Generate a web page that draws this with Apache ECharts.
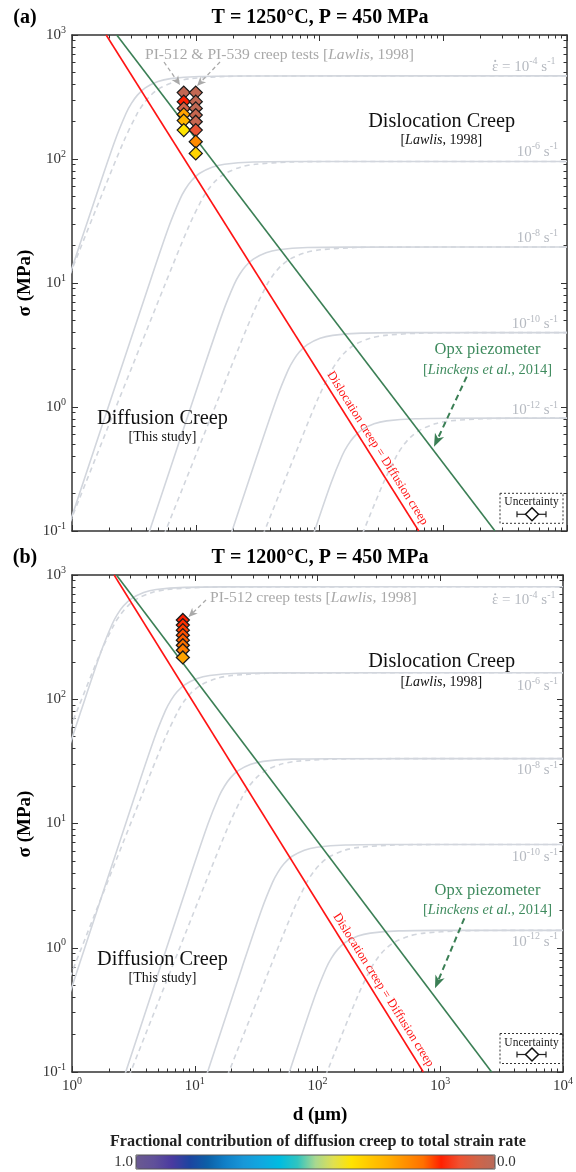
<!DOCTYPE html>
<html><head><meta charset="utf-8">
<script src="https://cdn.jsdelivr.net/npm/echarts@6/dist/echarts.min.js"></script>
<style>html,body{margin:0;padding:0;background:#fff}#c{width:576px;height:1172px}</style>
</head><body><div id="c"></div>
<script>
// ---------------- DATA ----------------
const xMajor = [1, 10, 100, 1000, 10000];
const xMajorLabels = ['0', '1', '2', '3', '4'];
const xMinor = [2,3,4,5,6,7,8,9,20,30,40,50,60,70,80,90,200,300,400,500,600,700,800,900,2000,3000,4000,5000,6000,7000,8000,9000];
const yMajor = [0.1, 1, 10, 100, 1000];
const yMajorLabels = ['-1', '0', '1', '2', '3'];
const yMinor = [0.2,0.3,0.4,0.5,0.6,0.7,0.8,0.9,2,3,4,5,6,7,8,9,20,30,40,50,60,70,80,90,200,300,400,500,600,700,800,900];
const rateExponents = ['-4', '-6', '-8', '-10', '-12'];
const colorbarLabels = ['1.0', '0.0'];

// Panel (a) T=1250 C : strain-rate contours [d (um), sigma (MPa)]
const a_s4  = [[0.8,6.74],[1.526,46.8],[2.223,140.4],[2.736,234],[3.02,280.8],[3.377,327.6],[3.907,374.4],[4.949,421.2],[6.247,444.6],[10.7,463.3],[23.03,467.5],[10000,468]];
const a_s6  = [[0.8,0.0674],[4.17,9.55],[6.076,28.65],[7.479,47.75],[8.255,57.3],[9.231,66.85],[10.68,76.4],[13.53,85.95],[17.07,90.73],[29.24,94.55],[62.96,95.4],[10000,95.5]];
const a_s8  = [[3.361,0.05],[11.4,1.95],[16.61,5.85],[20.44,9.75],[22.56,11.7],[25.23,13.65],[29.19,15.6],[36.97,17.55],[46.67,18.53],[79.93,19.31],[172.1,19.48],[10000,19.5]];
const a_s10 = [[15.6,0.05],[31.15,0.398],[45.39,1.194],[55.87,1.99],[61.67,2.388],[68.97,2.786],[79.78,3.184],[101.1,3.582],[127.6,3.781],[218.5,3.94],[470.4,3.976],[10000,3.98]];
const a_s12 = [[85.11,0.0813],[124,0.2439],[152.6,0.4065],[168.5,0.4878],[188.4,0.5691],[217.9,0.6504],[276,0.7317],[348.5,0.7724],[596.8,0.8049],[1285,0.8122],[10000,0.813]];
const a_d4  = [[0.8,7.37],[1.676,46.8],[2.631,140.4],[3.377,234],[3.802,280.8],[4.348,327.6],[5.176,374.4],[6.878,421.2],[9.095,444.6],[17.34,463.3],[43.54,467.5],[10000,468]];
const a_d6  = [[0.8,0.0737],[5.6,9.55],[8.792,28.65],[11.29,47.75],[12.71,57.3],[14.53,66.85],[17.3,76.4],[22.99,85.95],[30.4,90.73],[57.96,94.55],[145.5,95.4],[10000,95.5]];
const a_d8  = [[4.324,0.05],[18.72,1.95],[29.38,5.85],[37.72,9.75],[42.47,11.7],[48.56,13.65],[57.81,15.6],[76.83,17.55],[101.6,18.53],[193.7,19.31],[486.3,19.48],[10000,19.5]];
const a_d10 = [[27.27,0.05],[62.53,0.398],[98.17,1.194],[126,1.99],[141.9,2.388],[162.3,2.786],[193.2,3.184],[256.7,3.582],[339.4,3.781],[647.2,3.94],[1625,3.976],[10000,3.98]];
const a_d12 = [[209,0.0813],[328.2,0.2439],[421.3,0.4065],[474.3,0.4878],[542.4,0.5691],[645.7,0.6504],[858,0.7317],[1135,0.7724],[2163,0.8049],[5432,0.8122],[10000,0.813]];

// Panel (b) T=1200 C
const b_s4  = [[0.8,24.85],[1.183,80.35],[1.724,241.1],[2.123,401.8],[2.343,482.1],[2.62,562.5],[3.031,642.8],[3.839,723.2],[4.846,763.3],[8.3,795.5],[17.87,802.7],[10000,803.5]];
const b_s6  = [[0.8,0.2484],[3.229,16.33],[4.705,48.99],[5.791,81.65],[6.392,97.98],[7.148,114.3],[8.269,130.6],[10.47,147],[13.22,155.1],[22.65,161.7],[48.75,163.1],[10000,163.3]];
const b_s8  = [[2.176,0.05],[8.817,3.327],[12.85,9.981],[15.81,16.64],[17.45,19.96],[19.52,23.29],[22.58,26.62],[28.6,29.94],[36.1,31.61],[61.83,32.94],[133.1,33.24],[10000,33.27]];
const b_s10 = [[10.1,0.05],[24.09,0.6777],[35.1,2.033],[43.2,3.389],[47.68,4.066],[53.32,4.744],[61.69,5.422],[78.13,6.099],[98.62,6.438],[168.9,6.709],[363.7,6.77],[10000,6.777]];
const b_s12 = [[46.9,0.05],[65.79,0.138],[95.86,0.414],[118,0.69],[130.2,0.828],[145.6,0.966],[168.5,1.104],[213.4,1.242],[269.4,1.311],[461.4,1.366],[993.3,1.379],[10000,1.38]];
const b_d4  = [[0.8,36.5],[1.097,80.35],[1.722,241.1],[2.211,401.8],[2.489,482.1],[2.846,562.5],[3.388,642.8],[4.503,723.2],[5.952,763.3],[11.35,795.5],[28.5,802.7],[10000,803.5]];
const b_d6  = [[0.8,0.3648],[3.66,16.33],[5.745,48.99],[7.375,81.65],[8.304,97.98],[9.496,114.3],[11.3,130.6],[15.02,147],[19.86,155.1],[37.87,161.7],[95.1,163.1],[10000,163.3]];
const b_d8  = [[2.279,0.05],[12.22,3.327],[19.18,9.981],[24.62,16.64],[27.72,19.96],[31.7,23.29],[37.73,26.62],[50.15,29.94],[66.31,31.61],[126.4,32.94],[317.4,33.24],[10000,33.27]];
const b_d10 = [[14.38,0.05],[40.79,0.6777],[64.03,2.033],[82.2,3.389],[92.55,4.066],[105.8,4.744],[126,5.422],[167.4,6.099],[221.4,6.438],[422.1,6.709],[1060,6.77],[10000,6.777]];
const b_d12 = [[90.74,0.05],[136.2,0.138],[213.9,0.414],[274.5,0.69],[309.1,0.828],[353.5,0.966],[420.8,1.104],[559.2,1.242],[739.4,1.311],[1410,1.366],[3540,1.379],[10000,1.38]];

// boundary lines
const redA = [[1.888,1000],[634,0.1]];
const redB = [[2.203,1000],[728,0.1]];
const greenPiezo = [[2.3,1000],[2620,0.1]];

// creep tests [d, sigma, fraction of diffusion creep]
const a_pi512 = [[8,343,0.02],[8,290,0.15],[8,256,0.05],[8,229,0.28],[8,204,0.31],[8,171,0.40]];
const a_pi539 = [[10,343,0.02],[10,290,0.02],[10,256,0.02],[10,226,0.03],[10,200,0.03],[10,171,0.09],[10,138,0.24],[10,111,0.37]];
const b_pi512 = [[8,434,0.15],[8,395,0.16],[8,360,0.17],[8,328,0.18],[8,299,0.19],[8,272,0.20],[8,248,0.22],[8,217,0.28]];

// colormap, value 0 -> 1
const palette = ['#b86a5a','#d06448','#f05030','#ff2000','#ff7000','#ff9000','#ffb000','#ffc800','#ffe400','#e0e050','#a8d890','#30c4c0','#00bce0','#10a8e0','#1898d8','#1080c8','#0c60a8','#1c44a0','#4a3aa0','#60509a','#6a5a90'];

// ---------------- CHART ----------------
const FONT = '"Liberation Serif", "Times New Roman", serif';
const AX = '#333';
const GRAY = '#d2d6dd';
const chart = echarts.init(document.getElementById('c'), null, {renderer: 'canvas', width: 576, height: 1172});

const RICH = {
  b: {fontSize: 15, fontFamily: FONT, color: '#333', lineHeight: 20},
  s: {fontSize: 10, fontFamily: FONT, color: '#333', verticalAlign: 'top'}
};
function expIndex(arr, v) {
  let best = 0, bd = 1e9;
  arr.forEach((t, i) => { const d = Math.abs(Math.log10(t) - Math.log10(v)); if (d < bd) { bd = d; best = i; } });
  return best;
}
const fx = v => '{b|10}{s|' + xMajorLabels[expIndex(xMajor, v)] + '}';
const fy = v => '{b|10}{s|' + yMajorLabels[expIndex(yMajor, v)] + '}';

function mkX(grid, pos, ticks, len, showLine, labels) {
  return {type: 'log', logBase: 10, gridIndex: grid, position: pos, min: 1, max: 10000, silent: true,
    axisLine: {show: showLine, onZero: false, lineStyle: {color: AX, width: 1.5}},
    axisTick: {show: true, inside: true, length: len, customValues: ticks, lineStyle: {color: AX, width: 1}},
    minorTick: {show: false}, splitLine: {show: false},
    axisLabel: labels ? {show: true, customValues: xMajor, formatter: fx, rich: RICH, margin: 4, showMinLabel: true, showMaxLabel: true} : {show: false}};
}
function mkY(grid, pos, ticks, len, showLine, labels) {
  return {type: 'log', logBase: 10, gridIndex: grid, position: pos, min: 0.1, max: 1000, silent: true,
    axisLine: {show: showLine, onZero: false, lineStyle: {color: AX, width: 1.5}},
    axisTick: {show: true, inside: true, length: len, customValues: ticks, lineStyle: {color: AX, width: 1}},
    minorTick: {show: false}, splitLine: {show: false},
    axisLabel: labels ? {show: true, customValues: yMajor, formatter: fy, rich: RICH, margin: 6, showMinLabel: true, showMaxLabel: true} : {show: false}};
}
const xAxes = [], yAxes = [];
[0, 1].forEach(g => {
  xAxes.push(mkX(g, 'bottom', xMajor, 6, true, g === 1));
  xAxes.push(mkX(g, 'bottom', xMinor, 3.5, false, false));
  xAxes.push(mkX(g, 'top', xMajor, 6, true, false));
  xAxes.push(mkX(g, 'top', xMinor, 3.5, false, false));
  yAxes.push(mkY(g, 'left', yMajor, 6, true, true));
  yAxes.push(mkY(g, 'left', yMinor, 3.5, false, false));
  yAxes.push(mkY(g, 'right', yMajor, 6, true, false));
  yAxes.push(mkY(g, 'right', yMinor, 3.5, false, false));
});

const panels = [
  {ax: 0, solid: [a_s4, a_s6, a_s8, a_s10, a_s12], dashed: [a_d4, a_d6, a_d8, a_d10, a_d12], red: redA, tests: [a_pi512, a_pi539]},
  {ax: 4, solid: [b_s4, b_s6, b_s8, b_s10, b_s12], dashed: [b_d4, b_d6, b_d8, b_d10, b_d12], red: redB, tests: [b_pi512]}
];
const series = [];
const markerIdx = [];
panels.forEach(p => {
  const base = {type: 'line', xAxisIndex: p.ax, yAxisIndex: p.ax, showSymbol: false, symbol: 'none', silent: true, clip: true, animation: false};
  p.solid.forEach(d => series.push(Object.assign({}, base, {data: d, smooth: 0.3, z: 2, lineStyle: {color: GRAY, width: 1.6, type: 'solid'}})));
  p.dashed.forEach(d => series.push(Object.assign({}, base, {data: d, smooth: 0.3, z: 2, lineStyle: {color: GRAY, width: 1.6, type: [5, 4]}})));
  series.push(Object.assign({}, base, {data: p.red, z: 3, lineStyle: {color: '#ff1414', width: 1.6}}));
  series.push(Object.assign({}, base, {data: greenPiezo, z: 3, lineStyle: {color: '#3b7f55', width: 1.6}}));
});
panels.forEach(p => {
  p.tests.forEach(t => {
    markerIdx.push(series.length);
    series.push({type: 'scatter', xAxisIndex: p.ax, yAxisIndex: p.ax, data: t, symbol: 'diamond', symbolSize: 13,
      itemStyle: {borderColor: '#1a1a1a', borderWidth: 1.3, opacity: 1}, z: 10, silent: true, animation: false});
  });
});

// ---------------- ANNOTATIONS ----------------
function rs(size, opts) { return Object.assign({fontSize: size, fontFamily: FONT}, opts || {}); }
function txt(x, y, text, st, extra) {
  return Object.assign({type: 'text', x: x, y: y, z: 100, silent: true,
    style: Object.assign({text: text, fontFamily: FONT, fontSize: 14, fill: '#000', align: 'center', verticalAlign: 'middle'}, st)}, extra || {});
}
const RC = '#b6bac1';
const rateRich = {
  n: rs(15, {fill: RC, color: RC, lineHeight: 20}),
  s: rs(10, {fill: RC, color: RC, verticalAlign: 'top'})
};
function rateTxt(x, y, first, exp) {
  if (first) {
    // epsilon-dot: left-aligned text plus a small dot above the epsilon
    return [
      txt(492, y, '{n|ε = 10}{s|' + exp + '}{n| s}{s|-1}', {align: 'left', rich: rateRich}),
      {type: 'circle', z: 100, silent: true, shape: {cx: 495.2, cy: y - 5.8, r: 1.05}, style: {fill: RC, stroke: null}}
    ];
  }
  return [txt(x, y, '{n|10}{s|' + exp + '}{n| s}{s|-1}', {align: 'right', rich: rateRich})];
}
function arrow(x1, y1, x2, y2, color, w, dash, hl, hw) {
  const dx = x2 - x1, dy = y2 - y1, L = Math.hypot(dx, dy), ux = dx / L, uy = dy / L, px = -uy, py = ux;
  const bx = x2 - ux * hl, by = y2 - uy * hl;
  const nx = x2 - ux * hl * 0.72, ny = y2 - uy * hl * 0.72;
  return [
    {type: 'polyline', z: 100, silent: true, shape: {points: [[x1, y1], [nx, ny]]}, style: {stroke: color, lineWidth: w, lineDash: dash, fill: null}},
    {type: 'polygon', z: 100, silent: true, shape: {points: [[x2, y2], [bx + px * hw / 2, by + py * hw / 2], [nx, ny], [bx - px * hw / 2, by - py * hw / 2]]}, style: {fill: color, stroke: null}}
  ];
}
function uncBox(y0) {
  const yb = y0 + 21;
  return [
    {type: 'rect', z: 100, silent: true, shape: {x: 500, y: y0, width: 63, height: 30}, style: {fill: null, stroke: '#333', lineWidth: 1, lineDash: [2, 2]}},
    txt(531.5, y0 + 9, 'Uncertainty', {fontSize: 11.5, fill: '#222'}),
    {type: 'polyline', z: 100, silent: true, shape: {points: [[517, yb], [546, yb]]}, style: {stroke: '#222', lineWidth: 1.2}},
    {type: 'polyline', z: 100, silent: true, shape: {points: [[517, yb - 3], [517, yb + 3]]}, style: {stroke: '#222', lineWidth: 1.2}},
    {type: 'polyline', z: 100, silent: true, shape: {points: [[546, yb - 3], [546, yb + 3]]}, style: {stroke: '#222', lineWidth: 1.2}},
    {type: 'polygon', z: 101, silent: true, shape: {points: [[532, yb - 6.5], [538.5, yb], [532, yb + 6.5], [525.5, yb]]}, style: {fill: '#fff', stroke: '#111', lineWidth: 1.5}}
  ];
}
const GC = '#a9a9a9', GR = '#3f8b5e';
const gRich = {
  g: rs(15.6, {fill: GC, color: GC}),
  gi: rs(15.6, {fill: GC, color: GC, fontStyle: 'italic'}),
  k: rs(14, {fill: '#111', color: '#111'}),
  ki: rs(14, {fill: '#111', color: '#111', fontStyle: 'italic'}),
  gr: rs(14.4, {fill: GR, color: GR}),
  gri: rs(14.4, {fill: GR, color: GR, fontStyle: 'italic'})
};
const G = [];
const panelY = [0, 540];
const titles = ['T = 1250°C, P = 450 MPa', 'T = 1200°C, P = 450 MPa'];
const tags = ['(a)', '(b)'];
const rateY = [[66.7, 151.7, 238, 324, 410], [600, 686, 770, 857, 941.7]];
[0, 1].forEach(i => {
  const o = panelY[i];
  G.push(txt(25, 18 + o, tags[i], {fontSize: 20, fontWeight: 'bold'}));
  G.push(txt(320, 18 + o, titles[i], {fontSize: 20, fontWeight: 'bold'}));
  G.push(txt(25.5, 283 + o + (i ? 1 : 0), 'σ (MPa)', {fontSize: 19, fontWeight: 'bold'}, {rotation: Math.PI / 2}));
  rateExponents.forEach((e, k) => G.push(...rateTxt(558, rateY[i][k], k === 0, e)));
  G.push(txt(441.7, 121.7 + o, 'Dislocation Creep', {fontSize: 20.3, fill: '#111'}));
  G.push(txt(441.3, 140.5 + o + (i ? 1.7 : 0), '{k|[}{ki|Lawlis}{k|, 1998]}', {rich: gRich}));
  G.push(txt(162.5, 418.3 + o + (i ? 1 : 0), 'Diffusion Creep', {fontSize: 20.3, fill: '#111'}));
  G.push(txt(162.5, 437.8 + o + (i ? 1 : 0), '[This study]', {fontSize: 14, fill: '#111'}));
  G.push(txt(487.5, 350 + o + (i ? 0.7 : 0), 'Opx piezometer', {fontSize: 16.5, fill: GR}));
  G.push(txt(487.5, 370 + o, '{gr|[}{gri|Linckens et al.}{gr|, 2014]}', {rich: gRich}));
  G.push(...uncBox(i ? 1033.5 : 493.3));
});
G.push(txt(145, 55, '{g|PI-512 & PI-539 creep tests [}{gi|Lawlis}{g|, 1998]}', {align: 'left', rich: gRich}));
G.push(txt(210, 598, '{g|PI-512 creep tests [}{gi|Lawlis}{g|, 1998]}', {align: 'left', rich: gRich}));
G.push(...arrow(164, 62, 180, 85, GC, 1.3, [4, 3], 9, 8));
G.push(...arrow(220, 62, 197, 86, GC, 1.3, [4, 3], 9, 8));
G.push(...arrow(206, 600, 188.5, 617, GC, 1.3, [4, 3], 9, 8));
G.push(...arrow(466.7, 376.7, 434, 446.7, '#3b7f55', 2, [6, 4], 13, 10));
G.push(...arrow(464.3, 918.3, 435, 988.3, '#3b7f55', 2, [6, 4], 13, 10));
G.push(txt(377.5, 448.3, 'Dislocation creep = Diffusion creep', {fontSize: 12.5, fill: '#ff1414'}, {rotation: -1.0085}));
G.push(txt(383.3, 990, 'Dislocation creep = Diffusion creep', {fontSize: 12.5, fill: '#ff1414'}, {rotation: -1.0105}));
G.push(txt(320, 1115, 'd (μm)', {fontSize: 19, fontWeight: 'bold'}));
G.push(txt(318, 1142, 'Fractional contribution of diffusion creep to total strain rate', {fontSize: 16.2, fontWeight: 'bold', fill: '#222'}));
G.push(txt(133, 1162.5, colorbarLabels[0], {fontSize: 15, fill: '#333', align: 'right'}));
G.push(txt(497, 1162.5, colorbarLabels[1], {fontSize: 15, fill: '#333', align: 'left'}));
G.push({type: 'rect', z: 100, silent: true, shape: {x: 136, y: 1155, width: 359, height: 14}, style: {fill: null, stroke: '#555', lineWidth: 1}});

chart.setOption({
  animation: false,
  backgroundColor: '#fff',
  grid: [
    {left: 72, top: 35, width: 495, height: 496, containLabel: false},
    {left: 72, top: 575, width: 495, height: 497, containLabel: false}
  ],
  xAxis: xAxes,
  yAxis: yAxes,
  visualMap: {
    type: 'continuous', min: 0, max: 1, dimension: 2, seriesIndex: markerIdx,
    orient: 'horizontal', inverse: true, left: 136, top: 1155, itemWidth: 14, itemHeight: 359,
    calculable: false, padding: 0, showLabel: false, text: null, hoverLink: false,
    inRange: {color: palette}
  },
  series: series,
  graphic: {elements: G}
});
</script>
</body></html>
